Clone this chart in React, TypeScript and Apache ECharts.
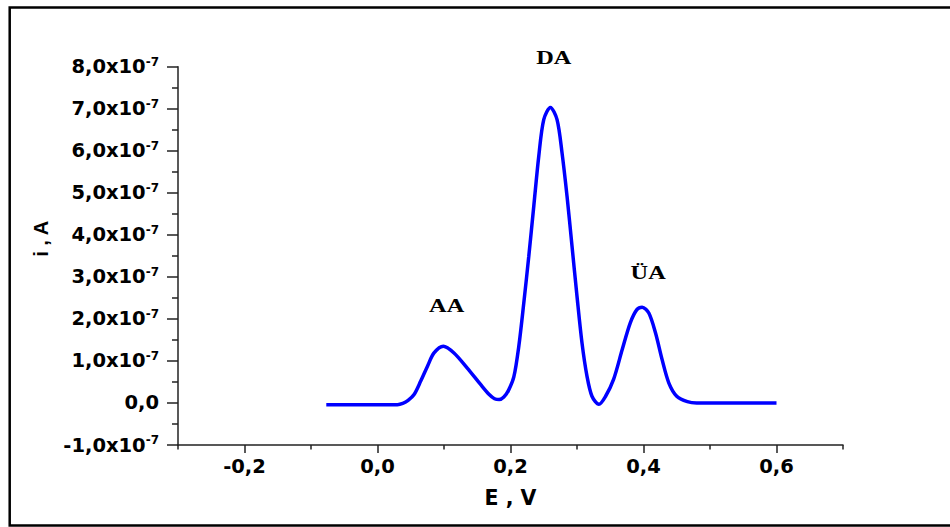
import React, { useEffect, useRef } from "react";
import * as echarts from "echarts";

// Potential (V)
const potentials = [
  -0.077, 0.0, 0.03, 0.038, 0.046, 0.055, 0.065, 0.075, 0.085, 0.099, 0.115, 0.135, 0.155, 0.168,
  0.176, 0.183, 0.19, 0.197, 0.205, 0.2125, 0.22, 0.2275, 0.235, 0.2425, 0.25, 0.26, 0.27, 0.2775,
  0.285, 0.2925, 0.3, 0.3075, 0.315, 0.3225, 0.333, 0.343, 0.355, 0.368, 0.38, 0.39, 0.398, 0.408,
  0.418, 0.428, 0.438, 0.45, 0.466, 0.48, 0.6,
];
// Current (A)
const currents = [
  -0.04e-7, -0.04e-7, -0.04e-7, -0.01e-7, 0.06e-7, 0.2e-7, 0.52e-7, 0.87e-7, 1.19e-7, 1.35e-7,
  1.19e-7, 0.83e-7, 0.44e-7, 0.2e-7, 0.1e-7, 0.08e-7, 0.14e-7, 0.3e-7, 0.62e-7, 1.35e-7, 2.38e-7,
  3.49e-7, 4.68e-7, 5.87e-7, 6.74e-7, 7.03e-7, 6.74e-7, 5.95e-7, 4.92e-7, 3.73e-7, 2.54e-7,
  1.43e-7, 0.64e-7, 0.16e-7, -0.03e-7, 0.16e-7, 0.56e-7, 1.27e-7, 1.9e-7, 2.22e-7, 2.28e-7,
  2.14e-7, 1.67e-7, 1.03e-7, 0.48e-7, 0.16e-7, 0.03e-7, 0.0, 0.0,
];

const xMajorTicks = [-0.2, 0.0, 0.2, 0.4, 0.6];
const xMinorTicks = [-0.3, -0.1, 0.1, 0.3, 0.5, 0.7];

const peakNames = ["AA", "DA", "ÜA"];
const peakLabelX = [0.104, 0.265, 0.407];
const peakLabelY = [2.32e-7, 8.22e-7, 3.09e-7];

const AXIS_COLOR = "#222";
const SANS = "DejaVu Sans";

export default function App() {
  const ref = useRef<HTMLDivElement>(null);

  useEffect(() => {
    if (!ref.current) return;
    const chart = echarts.init(ref.current, undefined, { renderer: "svg" });

    const data = potentials.map((e, i) => [e, currents[i]]);

    const option: any = {
      animation: false,
      backgroundColor: "#fff",
      grid: { left: 178, right: 107, top: 66.7, bottom: 82, containLabel: false },
      xAxis: [
        {
          type: "value",
          min: -0.3,
          max: 0.7,
          position: "bottom",
          name: "E , V",
          nameLocation: "middle",
          nameGap: 42,
          nameTextStyle: { fontFamily: SANS, fontWeight: "bold", fontSize: 20.5, color: "#000" },
          axisLine: { show: true, onZero: false, lineStyle: { color: AXIS_COLOR, width: 1.5 } },
          axisTick: { show: true, inside: false, length: 8, customValues: xMajorTicks, lineStyle: { color: AXIS_COLOR, width: 1.5 } },
          axisLabel: {
            show: true,
            customValues: xMajorTicks,
            margin: 11,
            fontFamily: SANS,
            fontWeight: "bold",
            fontSize: 19.5,
            color: "#000",
            formatter: (v: number) => v.toFixed(1).replace(".", ","),
          },
          splitLine: { show: false },
        },
        {
          type: "value",
          min: -0.3,
          max: 0.7,
          position: "bottom",
          axisLine: { show: false, onZero: false },
          axisTick: { show: true, inside: false, length: 4.5, customValues: xMinorTicks, lineStyle: { color: AXIS_COLOR, width: 1.5 } },
          axisLabel: { show: false },
          splitLine: { show: false },
        },
      ],
      yAxis: {
        type: "value",
        min: -1e-7,
        max: 8e-7,
        interval: 1e-7,
        name: "i , A",
        nameLocation: "middle",
        nameGap: 127,
        nameTextStyle: {
          fontFamily: "Liberation Sans",
          fontWeight: "bold",
          fontSize: 20,
          color: "#000",
          padding: [0, 0, 0, 34],
        },
        axisLine: { show: true, onZero: false, lineStyle: { color: AXIS_COLOR, width: 1.5 } },
        axisTick: { show: true, inside: false, length: 11, lineStyle: { color: AXIS_COLOR, width: 1.5 } },
        minorTick: { show: true, splitNumber: 2, length: 6, lineStyle: { color: AXIS_COLOR, width: 1.5 } },
        splitLine: { show: false },
        minorSplitLine: { show: false },
        axisLabel: {
          margin: 19,
          color: "#000",
          formatter: (v: number) => {
            const n = Math.round(v * 1e8) / 10;
            if (Math.abs(n) < 1e-9) return "{a|0,0}";
            return `{a|${n.toFixed(1).replace(".", ",")}x10}{s|-7}`;
          },
          rich: {
            a: { fontFamily: SANS, fontWeight: "bold", fontSize: 19.5, lineHeight: 22, color: "#000" },
            s: { fontFamily: SANS, fontWeight: "bold", fontSize: 12, lineHeight: 12, verticalAlign: "top", color: "#000" },
          },
        },
      },
      series: [
        {
          type: "line",
          data,
          showSymbol: false,
          symbol: "none",
          smooth: 0.3,
          lineStyle: { color: "#0000ff", width: 3.5 },
          z: 3,
        },
      ],
    };

    chart.setOption(option);

    const labels = peakNames.map((name, i) => {
      const p = chart.convertToPixel({ xAxisIndex: 0, yAxisIndex: 0 }, [peakLabelX[i], peakLabelY[i]]) as number[];
      return {
        type: "text",
        x: p[0],
        y: p[1],
        scaleX: 1.28,
        style: {
          text: name,
          fontFamily: "Liberation Serif",
          fontWeight: "bold",
          fontSize: 19,
          fill: "#000",
          textAlign: "center",
          textVerticalAlign: "middle",
        },
        z: 10,
      };
    });

    chart.setOption({
      graphic: [
        {
          type: "rect",
          shape: { x: 9.7, y: 7.5, width: 1000, height: 518 },
          style: { fill: "none", stroke: "#000", lineWidth: 2.5 },
          silent: true,
          z: 0,
        },
        ...labels,
      ],
    });

    return () => chart.dispose();
  }, []);

  return (
    <div
      ref={ref}
      style={{ position: "fixed", left: 0, top: 0, width: 950, height: 527, background: "#fff" }}
    />
  );
}
